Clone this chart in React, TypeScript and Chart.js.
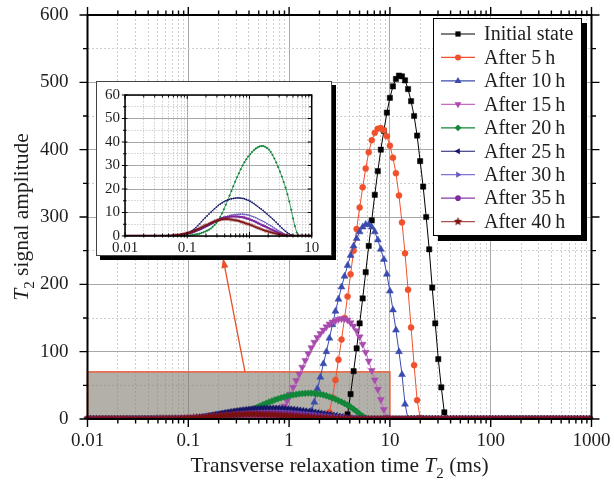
import React, { useEffect, useRef } from 'react';
import { Chart, registerables } from 'chart.js';

Chart.register(...registerables);

// ---------- DATA ----------
// Instrument T2 grid (ms), log-spaced points
const T2_GRID = [
  0.01, 0.01072, 0.01148, 0.0123, 0.01318, 0.01413, 0.01514, 0.01622, 0.01738, 0.01862,
  0.01995, 0.02138, 0.02291, 0.02455, 0.0263, 0.02818, 0.0302, 0.03236, 0.03467, 0.03715,
  0.03981, 0.04266, 0.04571, 0.04898, 0.05248, 0.05623, 0.06026, 0.06457, 0.06918, 0.07413,
  0.07943, 0.08511, 0.0912, 0.09772,
  0.1047, 0.1122, 0.1202, 0.1288, 0.138, 0.1479, 0.1585, 0.1698, 0.182, 0.195,
  0.2089, 0.2239, 0.2399, 0.257, 0.2754, 0.2951, 0.3162, 0.3388, 0.3631, 0.389,
  0.4169, 0.4467, 0.4786, 0.5129, 0.5495, 0.5888, 0.631, 0.6761, 0.7244, 0.7762,
  0.8318, 0.8913, 0.955,
  1.023, 1.096, 1.175, 1.259, 1.349, 1.445, 1.549, 1.66, 1.778, 1.905,
  2.042, 2.188, 2.344, 2.512, 2.692, 2.884, 3.09, 3.311, 3.548, 3.802,
  4.074, 4.365, 4.677, 5.012, 5.37, 5.754, 6.166, 6.607, 7.079, 7.586,
  8.128, 8.71, 9.333,
  10, 10.72, 11.48, 12.3, 13.18, 14.13, 15.14, 16.22, 17.38, 18.62,
  19.95, 21.38, 22.91, 24.55, 26.3, 28.18, 30.2, 32.36, 34.67, 37.15,
  39.81, 42.66, 45.71, 48.98, 52.48, 56.23, 60.26, 64.57, 69.18, 74.13,
  79.43, 85.11, 91.2, 97.72,
  104.7, 112.2, 120.2, 128.8, 138, 147.9, 158.5, 169.8, 182, 195,
  208.9, 223.9, 239.9, 257, 275.4, 295.1, 316.2, 338.8, 363.1, 389,
  416.9, 446.7, 478.6, 512.9, 549.5, 588.8, 631, 676.1, 724.4, 776.2,
  831.8, 891.3, 955,
];

const SERIES_LABELS = [
  'Initial state', 'After 5\u2009h', 'After 10\u2009h', 'After 15\u2009h', 'After 20\u2009h',
  'After 25\u2009h', 'After 30\u2009h', 'After 35\u2009h', 'After 40\u2009h',
];

// Each series: grid index where its non-zero part starts, and amplitudes from there (zero elsewhere)
const START_0H = 85;
const AMP_0H = [0, 7, 37, 71, 105, 142, 179, 218, 257, 295, 333, 368, 400, 428, 455, 477, 494, 505, 510, 509,
  503, 490, 472, 450, 421, 383, 345, 300, 252, 195, 142, 89, 47, 10, 0];

const START_5H = 79;
const AMP_5H = [0, 10, 32, 58, 88, 118, 150, 182, 215, 250, 282, 314, 344, 372, 396, 414, 425, 431, 432, 429,
  420, 406, 388, 365, 332, 292, 246, 192, 136, 80, 28, 2, 0];

const START_10H = 72;
const AMP_10H = [0, 3, 12, 25, 45, 62, 82, 100, 120, 140, 160, 178, 196, 212, 228, 243, 257, 268, 278, 285,
  289, 289, 285, 278, 266, 252, 237, 215, 190, 162, 132, 100, 66, 22, 0];

const START_15H = 60;
const AMP_15H = [0, 1, 3, 7, 12, 19, 27, 37, 47, 57, 67, 77, 87, 97, 106, 114, 121, 127, 132, 137,
  141, 144, 146, 148, 149, 149, 147, 143, 138, 131, 122, 111, 99, 86, 72, 58, 44, 29, 14, 3, 0];

const START_20H = 29;
const AMP_20H = [0, 0.1, 0.1, 0.2, 0.2, 0.3, 0.3, 0.4, 0.5, 0.7, 0.8, 1.0, 1.3, 1.6, 1.9, 2.3, 2.7, 3.2, 3.9, 4.7,
  5.6, 6.5, 8.1, 9.7, 11.4, 13.3, 15.2, 17.2, 19.2, 21.2, 23.1, 25.0, 26.7, 28.4, 30.0, 31.4, 32.7, 33.8, 34.8, 35.7,
  36.5, 37.2, 37.7, 38.1, 38.3, 38.3, 38.0, 37.5, 36.8, 35.8, 34.5, 33.0, 31.3, 29.4, 27.4, 25.3, 23.0, 20.6, 17.8, 14.7,
  11.2, 7.5, 4.2, 1.5, 0.2, 0];

const START_25H = 23;
const AMP_25H = [0, 0.1, 0.1, 0.2, 0.2, 0.3, 0.4, 0.5, 0.6, 0.8, 1.1, 1.4, 1.8, 2.3, 2.9, 3.6, 4.4, 5.2, 6.1, 7.0,
  7.8, 8.6, 9.4, 10.2, 10.9, 11.6, 12.3, 13.0, 13.6, 14.1, 14.6, 15.0, 15.3, 15.6, 15.8, 16.0, 16.1, 16.2, 16.2, 16.1,
  16.0, 15.8, 15.5, 15.2, 14.8, 14.3, 13.8, 13.2, 12.6, 12.0, 11.4, 10.8, 10.1, 9.4, 8.7, 8.0, 7.3, 6.6, 5.8, 5.0,
  4.2, 3.4, 2.7, 2.0, 1.4, 0.9, 0.5, 0.2, 0];

const START_30H = 24;
const AMP_30H = [0, 0.1, 0.2, 0.2, 0.3, 0.4, 0.5, 0.6, 0.7, 0.9, 1.0, 1.2, 1.4, 1.7, 2.0, 2.3, 2.6, 2.9, 3.3, 3.7,
  4.1, 4.5, 4.9, 5.4, 5.8, 6.3, 6.8, 7.2, 7.6, 7.9, 8.2, 8.4, 8.7, 8.9, 9.0, 9.1, 9.2, 9.3, 9.3, 9.3,
  9.2, 9.1, 8.9, 8.7, 8.4, 8.1, 7.8, 7.4, 7.0, 6.6, 6.2, 5.8, 5.3, 4.8, 4.4, 3.9, 3.4, 2.9, 2.4, 1.9,
  1.5, 1.0, 0.6, 0.2, 0];

const START_35H = 24;
const AMP_35H = [0, 0.1, 0.2, 0.2, 0.3, 0.4, 0.5, 0.6, 0.8, 1.0, 1.2, 1.4, 1.6, 1.9, 2.2, 2.6, 2.9, 3.3, 3.7, 4.1,
  4.5, 4.9, 5.3, 5.7, 6.1, 6.5, 6.9, 7.2, 7.5, 7.8, 8.0, 8.1, 8.2, 8.3, 8.3, 8.3, 8.3, 8.2, 8.1, 8.0,
  7.8, 7.5, 7.3, 7.0, 6.7, 6.4, 6.0, 5.6, 5.2, 4.8, 4.4, 4.1, 3.7, 3.3, 2.9, 2.6, 2.2, 1.9, 1.5, 1.2,
  0.9, 0.6, 0.3, 0.1, 0];

const START_40H = 22;
const AMP_40H = [0, 0.1, 0.1, 0.2, 0.3, 0.3, 0.4, 0.5, 0.6, 0.8, 1.0, 1.2, 1.4, 1.6, 1.9, 2.2, 2.6, 2.9, 3.3, 3.7,
  4.1, 4.5, 4.8, 5.2, 5.6, 5.9, 6.2, 6.5, 6.7, 6.9, 7.1, 7.2, 7.2, 7.2, 7.1, 7.0, 6.9, 6.7, 6.6, 6.4,
  6.1, 5.9, 5.6, 5.3, 5.1, 4.8, 4.5, 4.1, 3.8, 3.5, 3.2, 2.9, 2.6, 2.3, 2.1, 1.8, 1.6, 1.4, 1.2, 1.0,
  0.8, 0.6, 0.5, 0.3, 0.2, 0.1, 0];

const SERIES_STARTS = [START_0H, START_5H, START_10H, START_15H, START_20H, START_25H, START_30H, START_35H, START_40H];
const SERIES_AMPS = [AMP_0H, AMP_5H, AMP_10H, AMP_15H, AMP_20H, AMP_25H, AMP_30H, AMP_35H, AMP_40H];
const INSET_SERIES = [4, 5, 6, 7, 8];

// axes
const X_DECADES = [0.01, 0.1, 1, 10, 100, 1000];
const X_DECADE_LABELS = ['0.01', '0.1', '1', '10', '100', '1000'];
const X_MULTIPLIERS = [1, 2, 3, 4, 5, 6, 7, 8, 9];
const Y_TICKS = [0, 50, 100, 150, 200, 250, 300, 350, 400, 450, 500, 550, 600];
const INSET_X_DECADES = [0.01, 0.1, 1, 10];
const INSET_Y_TICKS = [0, 5, 10, 15, 20, 25, 30, 35, 40, 45, 50, 55, 60];

// highlighted region + arrow start (data coordinates)
const RECT_T2 = [0.01, 10];
const RECT_AMP = [0, 70];
const ARROW_FROM = [0.365, 70];

// ---------- STYLE / LAYOUT ----------
const FONT = '"Liberation Serif", "Times New Roman", serif';
const TEXT = '#1e1e1e';
const MAJOR_GRID = '#a8a8a8';
const MINOR_GRID = '#cfcfcf';
const W = 614, H = 492;
const INSET_BOX = { left: 96, top: 81, width: 236, height: 175 };

const STYLES = [
  { line: '#000000', fill: '#000000', shape: 'rect', r: 3.7, rot: 0 },
  { line: '#F0502C', fill: '#F0502C', shape: 'circle', r: 3.0, rot: 0 },
  { line: '#3A4BAE', fill: '#3A4BAE', shape: 'triangle', r: 4.0, rot: 0 },
  { line: '#C56AC5', fill: '#A94AAE', shape: 'triangle', r: 4.0, rot: 180 },
  { line: '#12873A', fill: '#12873A', shape: 'rectRot', r: 3.4, rot: 0 },
  { line: '#1A1A6E', fill: '#16166A', shape: 'triangle', r: 3.6, rot: 270 },
  { line: '#8272D2', fill: '#6A58C0', shape: 'triangle', r: 3.6, rot: 90 },
  { line: '#8A3AA8', fill: '#7E2A9E', shape: 'circle', r: 2.8, rot: 0 },
  { line: '#A85050', fill: '#7A1010', shape: 'star', r: 4.0, rot: 0 },
];

function isDecade(v: number | undefined) {
  if (v === undefined || v === null || !(v > 0)) return false;
  const l = Math.log10(v);
  return Math.abs(l - Math.round(l)) < 1e-6;
}

function buildLogTicks(decades: number[]) {
  const out: number[] = [];
  decades.forEach((d, k) => {
    if (k === decades.length - 1) out.push(d);
    else X_MULTIPLIERS.forEach((m) => out.push(+(d * m).toPrecision(6)));
  });
  return out;
}

function decadeLabel(v: number, decades: number[], labels: string[]) {
  for (let k = 0; k < decades.length; k++) {
    if (Math.abs(Math.log10(v) - Math.log10(decades[k])) < 1e-6) return labels[k];
  }
  return '';
}

function makeStar(size: number, fill: string) {
  const c = document.createElement('canvas');
  c.width = size; c.height = size;
  const g = c.getContext('2d')!;
  g.fillStyle = fill;
  g.beginPath();
  const cx = size / 2, cy = size / 2, R = size / 2, r = R * 0.45;
  for (let k = 0; k < 10; k++) {
    const a = -Math.PI / 2 + (k * Math.PI) / 5;
    const rr = k % 2 === 0 ? R : r;
    const x = cx + rr * Math.cos(a), y = cy + rr * Math.sin(a);
    if (k === 0) g.moveTo(x, y); else g.lineTo(x, y);
  }
  g.closePath();
  g.fill();
  return c;
}

function seriesPoints(idx: number) {
  const start = SERIES_STARTS[idx];
  const amps = SERIES_AMPS[idx];
  return T2_GRID.map((t, i) => ({
    x: t,
    y: i >= start && i < start + amps.length ? amps[i - start] : 0,
  }));
}

function drawMarker(ctx: CanvasRenderingContext2D, idx: number, x: number, y: number, star: HTMLCanvasElement) {
  const s = STYLES[idx];
  if (s.shape === 'star') {
    ctx.drawImage(star, x - star.width / 2, y - star.height / 2);
    return;
  }
  ctx.save();
  ctx.translate(x, y);
  ctx.rotate((s.rot * Math.PI) / 180);
  ctx.fillStyle = s.fill;
  ctx.beginPath();
  const r = s.r;
  if (s.shape === 'circle') ctx.arc(0, 0, r, 0, Math.PI * 2);
  else if (s.shape === 'rect') { const h = r * Math.SQRT1_2; ctx.rect(-h, -h, 2 * h, 2 * h); }
  else if (s.shape === 'rectRot') { ctx.moveTo(0, -r); ctx.lineTo(r, 0); ctx.lineTo(0, r); ctx.lineTo(-r, 0); ctx.closePath(); }
  else if (s.shape === 'triangle') {
    for (let k = 0; k < 3; k++) {
      const a = (k * 2 * Math.PI) / 3;
      const px = Math.sin(a) * r, py = -Math.cos(a) * r;
      if (k === 0) ctx.moveTo(px, py); else ctx.lineTo(px, py);
    }
    ctx.closePath();
  }
  ctx.fill();
  ctx.restore();
}

type Part = { text: string; italic?: boolean; sub?: boolean };
function drawRich(ctx: CanvasRenderingContext2D, parts: Part[], cx: number, cy: number, size: number, rotate: boolean) {
  ctx.save();
  ctx.translate(cx, cy);
  if (rotate) ctx.rotate(-Math.PI / 2);
  const fontOf = (p: Part) => `${p.italic ? 'italic ' : ''}${p.sub ? Math.round(size * 0.68) : size}px ${FONT}`;
  let total = 0;
  const ws = parts.map((p) => { ctx.font = fontOf(p); const w = ctx.measureText(p.text).width; total += w; return w; });
  let x = -total / 2;
  ctx.fillStyle = TEXT;
  ctx.textBaseline = 'alphabetic';
  ctx.textAlign = 'left';
  const base = size * 0.34;
  parts.forEach((p, k) => {
    ctx.font = fontOf(p);
    ctx.fillText(p.text, x, p.sub ? base + size * 0.28 : base);
    x += ws[k];
  });
  ctx.restore();
}

// keep axis label overflow from moving the plot area: layout padding alone sets it
function fixSize(prop: 'width' | 'height', value: number) {
  return (s: any) => {
    s[prop] = value;
    s.paddingLeft = 0; s.paddingRight = 0; s.paddingTop = 0; s.paddingBottom = 0;
  };
}

export default function App() {
  const mainRef = useRef<HTMLCanvasElement>(null);
  const insetRef = useRef<HTMLCanvasElement>(null);

  useEffect(() => {
    const starBig = makeStar(9, STYLES[8].fill);
    const starSmall = makeStar(4, STYLES[8].fill);
    const xTicksMain = buildLogTicks(X_DECADES);
    const xTicksInset = buildLogTicks(INSET_X_DECADES);
    const N = SERIES_LABELS.length;

    const mainDatasets = SERIES_LABELS.map((label, idx) => {
      const s = STYLES[idx];
      return {
        label,
        data: seriesPoints(idx),
        borderColor: s.line,
        backgroundColor: s.fill,
        borderWidth: 1,
        pointStyle: s.shape === 'star' ? starBig : s.shape,
        pointRadius: s.r,
        pointRotation: s.rot,
        pointBackgroundColor: s.fill,
        pointBorderColor: s.fill,
        pointBorderWidth: 0.5,
        tension: 0,
        order: N - idx,
        clip: { left: 8, top: 8, right: 8, bottom: 0 },
      };
    });

    const mainDecor = {
      id: 'mainDecor',
      beforeDatasetsDraw(chart: any) {
        const { ctx, scales } = chart;
        const x = scales.x, y = scales.y;
        const x0 = x.getPixelForValue(RECT_T2[0]), x1 = x.getPixelForValue(RECT_T2[1]);
        const y0 = y.getPixelForValue(RECT_AMP[0]), y1 = y.getPixelForValue(RECT_AMP[1]);
        ctx.save();
        ctx.fillStyle = 'rgba(128,121,112,0.6)';
        ctx.fillRect(x0, y1, x1 - x0, y0 - y1);
        ctx.strokeStyle = '#E8603C';
        ctx.lineWidth = 1.5;
        ctx.strokeRect(x0, y1, x1 - x0, y0 - y1);
        ctx.restore();
      },
      afterDraw(chart: any) {
        const { ctx, chartArea: a, scales } = chart;
        const x = scales.x, y = scales.y;
        ctx.save();
        // frame
        ctx.strokeStyle = '#000';
        ctx.lineWidth = 2;
        ctx.strokeRect(a.left, a.top, a.right - a.left, a.bottom - a.top);
        // ticks on all four sides, outward
        ctx.lineWidth = 1.4;
        ctx.beginPath();
        xTicksMain.forEach((v) => {
          const px = x.getPixelForValue(v);
          const len = isDecade(v) ? 8 : 4.5;
          ctx.moveTo(px, a.bottom); ctx.lineTo(px, a.bottom + len);
          ctx.moveTo(px, a.top); ctx.lineTo(px, a.top - len);
        });
        Y_TICKS.forEach((v) => {
          const py = y.getPixelForValue(v);
          const len = v % 100 === 0 ? 8 : 4.5;
          ctx.moveTo(a.left, py); ctx.lineTo(a.left - len, py);
          ctx.moveTo(a.right, py); ctx.lineTo(a.right + len, py);
        });
        ctx.stroke();

        // axis titles
        drawRich(ctx, [{ text: 'Transverse relaxation time ' }, { text: 'T', italic: true }, { text: '2', sub: true }, { text: ' (ms)' }],
          (a.left + a.right) / 2, 465, 21.5, false);
        drawRich(ctx, [{ text: 'T', italic: true }, { text: '2', sub: true }, { text: ' signal amplitude' }],
          21, (a.top + a.bottom) / 2, 21.5, true);

        // arrow from highlighted region to inset
        const ax0 = x.getPixelForValue(ARROW_FROM[0]);
        const ay0 = y.getPixelForValue(ARROW_FROM[1]);
        const ax1 = INSET_BOX.left + 127;
        const ay1 = INSET_BOX.top + INSET_BOX.height + 2;
        const ang = Math.atan2(ay1 - ay0, ax1 - ax0);
        ctx.strokeStyle = '#E8502A';
        ctx.fillStyle = '#E8502A';
        ctx.lineWidth = 1.3;
        ctx.beginPath();
        ctx.moveTo(ax0, ay0);
        ctx.lineTo(ax1 - Math.cos(ang) * 8, ay1 - Math.sin(ang) * 8);
        ctx.stroke();
        ctx.beginPath();
        ctx.moveTo(ax1, ay1);
        ctx.lineTo(ax1 - Math.cos(ang) * 10 + Math.sin(ang) * 3.5, ay1 - Math.sin(ang) * 10 - Math.cos(ang) * 3.5);
        ctx.lineTo(ax1 - Math.cos(ang) * 10 - Math.sin(ang) * 3.5, ay1 - Math.sin(ang) * 10 + Math.cos(ang) * 3.5);
        ctx.closePath();
        ctx.fill();

        // legend
        const LX = a.right - 158.5, LY = a.top + 3, LW = 149, LH = 218;
        ctx.fillStyle = '#000';
        ctx.fillRect(LX + 5, LY + 5, LW, LH);
        ctx.fillStyle = '#fff';
        ctx.fillRect(LX, LY, LW, LH);
        ctx.strokeStyle = '#000';
        ctx.lineWidth = 1;
        ctx.strokeRect(LX + 0.5, LY + 0.5, LW - 1, LH - 1);
        SERIES_LABELS.forEach((label, k) => {
          const ry = LY + 16 + k * 23.45;
          ctx.strokeStyle = STYLES[k].line;
          ctx.lineWidth = 1.2;
          ctx.beginPath();
          ctx.moveTo(LX + 8, ry);
          ctx.lineTo(LX + 42, ry);
          ctx.stroke();
          drawMarker(ctx, k, LX + 25, ry, starBig);
          ctx.fillStyle = TEXT;
          ctx.font = `20px ${FONT}`;
          ctx.textBaseline = 'middle';
          ctx.textAlign = 'left';
          ctx.fillText(label, LX + 51, ry + 1);
        });
        ctx.restore();
      },
    };

    const main = new Chart(mainRef.current!, {
      type: 'line',
      data: { datasets: mainDatasets as any },
      options: {
        animation: false,
        responsive: false,
        devicePixelRatio: 1,
        events: [],
        layout: { padding: { left: 0, top: 15, right: 22.5, bottom: 0 } },
        plugins: { legend: { display: false }, tooltip: { enabled: false } },
        scales: {
          x: {
            type: 'logarithmic',
            min: 0.01,
            max: 1000,
            afterBuildTicks: (s: any) => { s.ticks = xTicksMain.map((v) => ({ value: v })); },
            afterFit: fixSize('height', 73),
            ticks: {
              autoSkip: false, maxRotation: 0, minRotation: 0, padding: 11,
              color: TEXT, font: { family: FONT, size: 19 },
              callback: (v: any) => decadeLabel(Number(v), X_DECADES, X_DECADE_LABELS),
            },
            grid: {
              drawTicks: false, lineWidth: 1,
              color: (c: any) => (isDecade(c.tick?.value) ? MAJOR_GRID : MINOR_GRID),
            },
            border: { display: false, dash: (c: any) => (isDecade(c.tick?.value) ? [] : [2, 2]) },
          } as any,
          y: {
            type: 'linear',
            min: 0,
            max: 600,
            afterBuildTicks: (s: any) => { s.ticks = Y_TICKS.map((v) => ({ value: v })); },
            afterFit: fixSize('width', 87.5),
            ticks: {
              autoSkip: false, padding: 19, color: TEXT, font: { family: FONT, size: 19 },
              callback: (v: any) => (Number(v) % 100 === 0 ? String(v) : ''),
            },
            grid: {
              drawTicks: false, lineWidth: 1,
              color: (c: any) => ((c.tick?.value ?? 1) % 100 === 0 ? MAJOR_GRID : MINOR_GRID),
            },
            border: { display: false, dash: (c: any) => ((c.tick?.value ?? 1) % 100 === 0 ? [] : [2, 2]) },
          } as any,
        },
      },
      plugins: [mainDecor],
    });

    const insetDatasets = INSET_SERIES.map((idx) => {
      const s = STYLES[idx];
      return {
        label: SERIES_LABELS[idx],
        data: seriesPoints(idx),
        borderColor: s.line,
        backgroundColor: s.fill,
        borderWidth: 0.8,
        pointStyle: s.shape === 'star' ? starSmall : s.shape,
        pointRadius: 1.3,
        pointRotation: s.rot,
        pointBackgroundColor: s.fill,
        pointBorderColor: s.fill,
        pointBorderWidth: 0,
        tension: 0,
        order: N - idx,
        clip: { left: 3, top: 3, right: 0, bottom: 0 },
      };
    });

    const insetDecor = {
      id: 'insetDecor',
      afterDraw(chart: any) {
        const { ctx, chartArea: a, scales, width, height } = chart;
        const x = scales.x, y = scales.y;
        ctx.save();
        ctx.strokeStyle = '#000';
        ctx.lineWidth = 1.5;
        ctx.strokeRect(a.left, a.top, a.right - a.left, a.bottom - a.top);
        ctx.lineWidth = 1;
        ctx.beginPath();
        xTicksInset.forEach((v) => {
          const px = x.getPixelForValue(v);
          const len = isDecade(v) ? 4 : 2.5;
          ctx.moveTo(px, a.bottom - len); ctx.lineTo(px, a.bottom + len * 0.6);
          ctx.moveTo(px, a.top); ctx.lineTo(px, a.top + len);
        });
        INSET_Y_TICKS.forEach((v) => {
          const py = y.getPixelForValue(v);
          const len = v % 10 === 0 ? 4 : 2.5;
          ctx.moveTo(a.left - len * 0.8, py); ctx.lineTo(a.left + len * 0.6, py);
          ctx.moveTo(a.right, py); ctx.lineTo(a.right - len, py);
        });
        ctx.stroke();
        ctx.strokeStyle = '#444';
        ctx.lineWidth = 1;
        ctx.strokeRect(0.5, 0.5, width - 1, height - 1);
        ctx.restore();
      },
    };

    const inset = new Chart(insetRef.current!, {
      type: 'line',
      data: { datasets: insetDatasets as any },
      options: {
        animation: false,
        responsive: false,
        devicePixelRatio: 1,
        events: [],
        layout: { padding: { left: 0, top: 14, right: 20.3, bottom: 0 } },
        plugins: { legend: { display: false }, tooltip: { enabled: false } },
        scales: {
          x: {
            type: 'logarithmic',
            min: 0.01,
            max: 10,
            afterBuildTicks: (s: any) => { s.ticks = xTicksInset.map((v) => ({ value: v })); },
            afterFit: fixSize('height', 20),
            ticks: {
              autoSkip: false, maxRotation: 0, minRotation: 0, padding: 3,
              color: TEXT, font: { family: FONT, size: 15 },
              callback: (v: any) => decadeLabel(Number(v), X_DECADES, X_DECADE_LABELS),
            },
            grid: {
              drawTicks: false, lineWidth: 1,
              color: (c: any) => (isDecade(c.tick?.value) ? MAJOR_GRID : MINOR_GRID),
            },
            border: { display: false, dash: (c: any) => (isDecade(c.tick?.value) ? [] : [1.5, 1.5]) },
          } as any,
          y: {
            type: 'linear',
            min: 0,
            max: 60,
            afterBuildTicks: (s: any) => { s.ticks = INSET_Y_TICKS.map((v) => ({ value: v })); },
            afterFit: fixSize('width', 29),
            ticks: {
              autoSkip: false, padding: 5, color: TEXT, font: { family: FONT, size: 15 },
              callback: (v: any) => (Number(v) % 10 === 0 ? String(v) : ''),
            },
            grid: {
              drawTicks: false, lineWidth: 1,
              color: (c: any) => ((c.tick?.value ?? 1) % 10 === 0 ? MAJOR_GRID : MINOR_GRID),
            },
            border: { display: false, dash: (c: any) => ((c.tick?.value ?? 1) % 10 === 0 ? [] : [1.5, 1.5]) },
          } as any,
        },
      },
      plugins: [insetDecor],
    });

    return () => {
      main.destroy();
      inset.destroy();
    };
  }, []);

  return (
    <div style={{ position: 'absolute', left: 0, top: 0, width: W, height: H, background: '#fff', overflow: 'hidden' }}>
      <canvas ref={mainRef} width={W} height={H} style={{ position: 'absolute', left: 0, top: 0, width: W, height: H }} />
      <canvas
        ref={insetRef}
        width={INSET_BOX.width}
        height={INSET_BOX.height}
        style={{
          position: 'absolute', left: INSET_BOX.left, top: INSET_BOX.top,
          width: INSET_BOX.width, height: INSET_BOX.height,
          background: '#fff', boxShadow: '4px 4px 0 #000',
        }}
      />
    </div>
  );
}
